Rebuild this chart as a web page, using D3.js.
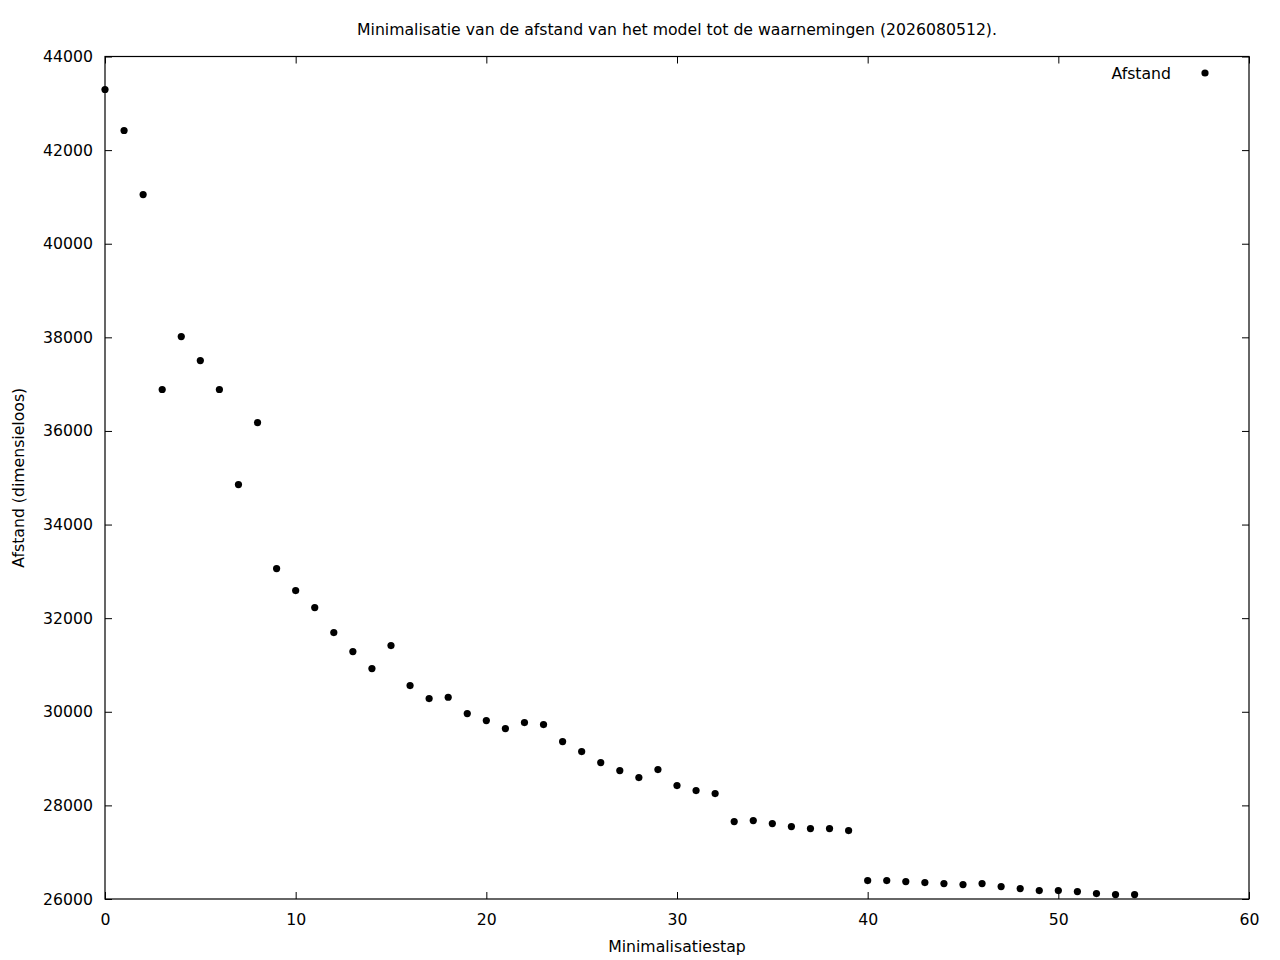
<!DOCTYPE html>
<html>
<head>
<meta charset="utf-8">
<script src="https://cdn.jsdelivr.net/npm/d3@7"></script>
<style>
  body { margin: 0; background: #fff; }
  svg { display: block; font-family: "DejaVu Sans", sans-serif; }
</style>
</head>
<body>
<svg id="chart"></svg>
<script>
const width = 1280;
const height = 960;

// data
const stappen = d3.range(0, 55);
const afstand = [
  43295, 42419, 41051, 36885, 38017, 37504, 36885, 34855, 36179, 33060,
  32590, 32226, 31692, 31286, 30923, 31415, 30560, 30282, 30310, 29962,
  29812, 29641, 29769, 29726, 29363, 29150, 28915, 28744, 28594, 28765,
  28423, 28316, 28252, 27654, 27675, 27611, 27547, 27504, 27504, 27462,
  26393, 26393, 26372, 26350, 26329, 26308, 26329, 26265, 26222, 26179,
  26179, 26158, 26115, 26094, 26094
];
const xTicks = [0, 10, 20, 30, 40, 50, 60];
const yTicks = [26000, 28000, 30000, 32000, 34000, 36000, 38000, 40000, 42000, 44000];
const title = "Minimalisatie van de afstand van het model tot de waarnemingen (2026080512).";
const xLabel = "Minimalisatiestap";
const yLabel = "Afstand (dimensieloos)";
const seriesName = "Afstand";

const margin = { top: 56.5, right: 31, bottom: 61, left: 105 };
const plotW = width - margin.left - margin.right;
const plotH = height - margin.top - margin.bottom;

const x = d3.scaleLinear().domain([0, 60]).range([0, plotW]);
const y = d3.scaleLinear().domain([26000, 44000]).range([plotH, 0]);

const svg = d3.select("#chart")
  .attr("width", width)
  .attr("height", height);

const g = svg.append("g")
  .attr("transform", `translate(${margin.left},${margin.top})`);

// frame with ticks on all four sides (inward)
const tickLen = 7;
const fontSize = 15.7;

g.append("g")
  .attr("transform", `translate(0,${plotH})`)
  .call(d3.axisBottom(x).tickValues(xTicks).tickSize(-tickLen).tickPadding(tickLen + 8))
  .call(ax => ax.select(".domain").remove());

g.append("g")
  .call(d3.axisTop(x).tickValues(xTicks).tickSize(-tickLen).tickFormat(""))
  .call(ax => ax.select(".domain").remove());

g.append("g")
  .call(d3.axisLeft(y).tickValues(yTicks).tickSize(-tickLen).tickPadding(tickLen + 5).tickFormat(d3.format("d")))
  .call(ax => ax.select(".domain").remove());

g.append("g")
  .attr("transform", `translate(${plotW},0)`)
  .call(d3.axisRight(y).tickValues(yTicks).tickSize(-tickLen).tickFormat(""))
  .call(ax => ax.select(".domain").remove());

g.selectAll(".tick line").attr("stroke", "#000").attr("stroke-width", 1);
g.selectAll(".tick text")
  .attr("fill", "#000")
  .style("font-size", fontSize + "px")
  .style("font-family", "DejaVu Sans, sans-serif");

g.append("rect")
  .attr("x", 0).attr("y", 0)
  .attr("width", plotW).attr("height", plotH)
  .attr("fill", "none")
  .attr("stroke", "#000")
  .attr("stroke-width", 1.2);

// points
g.append("g")
  .selectAll("circle")
  .data(stappen)
  .join("circle")
  .attr("cx", i => x(i))
  .attr("cy", i => y(afstand[i]))
  .attr("r", 3.6)
  .attr("fill", "#000");

// legend
const legend = g.append("g");
legend.append("text")
  .attr("x", 1171 - margin.left)
  .attr("y", 74 - margin.top)
  .attr("dy", "0.35em")
  .attr("text-anchor", "end")
  .style("font-size", fontSize + "px")
  .text(seriesName);
legend.append("circle")
  .attr("cx", 1205 - margin.left)
  .attr("cy", 73 - margin.top)
  .attr("r", 3.6)
  .attr("fill", "#000");

// titles
svg.append("text")
  .attr("x", margin.left + plotW / 2)
  .attr("y", 29.5)
  .attr("dy", "0.35em")
  .attr("text-anchor", "middle")
  .style("font-size", fontSize + "px")
  .text(title);

svg.append("text")
  .attr("x", margin.left + plotW / 2)
  .attr("y", 946.5)
  .attr("dy", "0.35em")
  .attr("text-anchor", "middle")
  .style("font-size", fontSize + "px")
  .text(xLabel);

svg.append("text")
  .attr("transform", `translate(18,${margin.top + plotH / 2}) rotate(-90)`)
  .attr("dy", "0.35em")
  .attr("text-anchor", "middle")
  .style("font-size", fontSize + "px")
  .text(yLabel);
</script>
</body>
</html>
